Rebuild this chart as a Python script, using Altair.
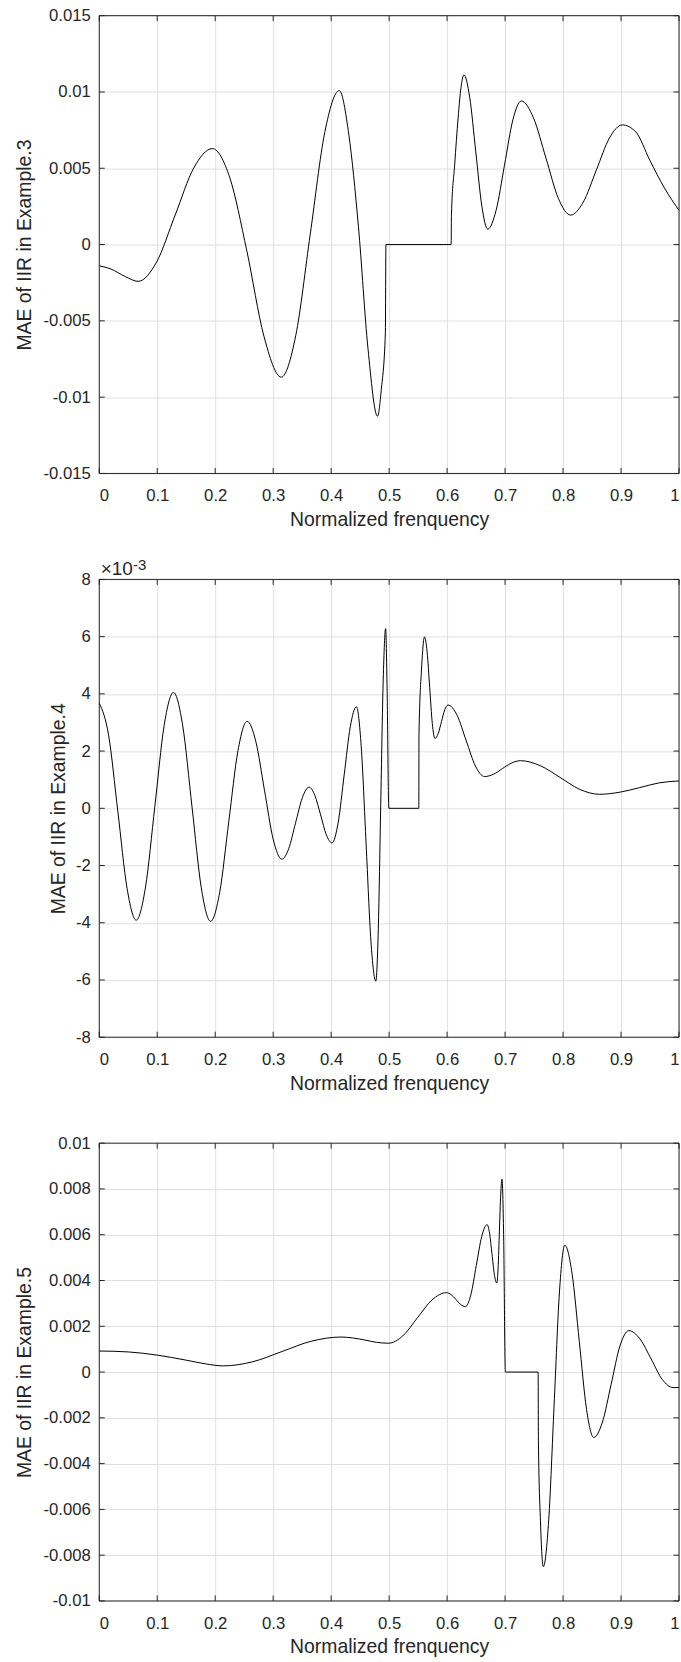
import altair as alt
import pandas as pd

# ---------------- data ----------------
x_ticks = [0, 0.1, 0.2, 0.3, 0.4, 0.5, 0.6, 0.7, 0.8, 0.9, 1]

# Panel 1: Example.3
p1_x = [0.000, 0.020, 0.045, 0.067, 0.099, 0.131, 0.163, 0.195, 0.225, 0.2545, 0.284,
        0.314, 0.339, 0.364, 0.389, 0.414, 0.4305, 0.447, 0.4635, 0.480, 0.4865,
        0.4935, 0.4945, 0.607, 0.6075, 0.613, 0.619, 0.624, 0.629, 0.639, 0.6495,
        0.660, 0.670, 0.6845, 0.699, 0.7135, 0.728, 0.749, 0.7705, 0.792, 0.813,
        0.835, 0.8575, 0.880, 0.902, 0.925, 0.950, 0.975, 1.000]
p1_y = [-0.00139, -0.0016, -0.0021, -0.00241, -0.00114, 0.00194, 0.00502, 0.00629,
        0.0044, -0.0004, -0.0060, -0.00869, -0.00595, 0.0007, 0.00735, 0.01009, 0.0072,
        0.0012, -0.0068, -0.01125, -0.0095, -0.0058, 0.0, 0.0, 0.0020, 0.0052, 0.0083,
        0.0103, 0.01112, 0.00964, 0.00607, 0.0025, 0.00101, 0.00224, 0.0052, 0.00818,
        0.00941, 0.0083, 0.00567, 0.00302, 0.00193, 0.00279, 0.00489, 0.00698, 0.00784,
        0.0074, 0.0055, 0.0037, 0.00224]
p1_yticks = [-0.015, -0.01, -0.005, 0, 0.005, 0.01, 0.015]

# Panel 2: Example.4 (values in units of 1e-3)
p2_x = [0.000, 0.016, 0.032, 0.048, 0.0637, 0.0798, 0.0959, 0.1119, 0.128, 0.144, 0.160,
        0.176, 0.192, 0.2078, 0.2235, 0.2393, 0.255, 0.270, 0.285, 0.300, 0.315, 0.3268,
        0.3385, 0.3503, 0.362, 0.3719, 0.3818, 0.3916, 0.4015, 0.412, 0.4225, 0.433,
        0.4435, 0.4519, 0.4603, 0.4686, 0.477, 0.4813, 0.4855, 0.4898, 0.494, 0.4965,
        0.4995, 0.5512, 0.5515, 0.556, 0.561, 0.5655, 0.570, 0.5745, 0.579, 0.5846,
        0.5903, 0.5959, 0.6015, 0.6173, 0.633, 0.6488, 0.6645, 0.680, 0.6955, 0.711,
        0.7266, 0.7607, 0.7948, 0.8289, 0.863, 0.897, 0.9315, 0.966, 1.000]
p2_y = [3.68, 2.57, -0.1, -2.80, -3.91, -2.75, 0.07, 2.89, 4.05, 2.88, 0.05, -2.78,
        -3.95, -2.93, -0.45, 2.02, 3.04, 2.34, 0.63, -1.08, -1.78, -1.41, -0.52, 0.37,
        0.74, 0.45, -0.23, -0.92, -1.21, -0.51, 1.17, 2.85, 3.55, 2.15, -1.25, -4.64,
        -6.04, -4.24, 0.12, 4.48, 6.28, 4.2, 0.0, 0.0, 2.6, 4.9, 5.99, 5.47, 4.22, 2.96,
        2.44, 2.61, 3.03, 3.44, 3.61, 3.25, 2.36, 1.48, 1.11, 1.19, 1.39, 1.58, 1.665,
        1.49, 1.08, 0.66, 0.49, 0.56, 0.72, 0.89, 0.955]
p2_yticks = [-8, -6, -4, -2, 0, 2, 4, 6, 8]

# Panel 3: Example.5
p3_x = [0.000, 0.050, 0.100, 0.150, 0.185, 0.214, 0.2648, 0.3155, 0.366, 0.417, 0.437,
        0.458, 0.478, 0.4985, 0.5236, 0.5488, 0.5739, 0.599, 0.607, 0.6153, 0.6234,
        0.6316, 0.641, 0.6503, 0.6597, 0.669, 0.6732, 0.6774, 0.6815, 0.6857, 0.688,
        0.6902, 0.6925, 0.6947, 0.6975, 0.7005, 0.757, 0.7575, 0.761, 0.766, 0.7753,
        0.7845, 0.7938, 0.803, 0.8155, 0.828, 0.8405, 0.853, 0.868, 0.883, 0.898,
        0.9135, 0.9326, 0.952, 0.971, 0.990, 1.000]
p3_y = [0.00092, 0.00088, 0.00074, 0.00052, 0.00035, 0.00027, 0.00045, 0.00090, 0.00135,
        0.00153, 0.00149, 0.00140, 0.00130, 0.00126, 0.00158, 0.00237, 0.00315, 0.00347,
        0.00338, 0.00317, 0.00295, 0.00286, 0.00338, 0.00465, 0.00592, 0.00644, 0.00607,
        0.00517, 0.00426, 0.00389, 0.00455, 0.00616, 0.00777, 0.00843, 0.0060, 0.0, 0.0,
        -0.0030, -0.0065, -0.0085, -0.00645, -0.00148, 0.0035, 0.00554, 0.00431, 0.00134,
        -0.00163, -0.00286, -0.00218, -0.00053, 0.00113, 0.00181, 0.00145, 0.00057,
        -0.00032, -0.00068, -0.00067]
p3_yticks = [-0.01, -0.008, -0.006, -0.004, -0.002, 0, 0.002, 0.004, 0.006, 0.008, 0.01]

x_title = "Normalized frenquency"

# ---------------- styling ----------------
W, H = 580, 458
FONT = "Liberation Sans"
INK = "#262626"
TICK = 5.5


def panel(xs, ys, yticks, ydom, ytitle, ytitle_x, anchor, extra=None):
    df = pd.DataFrame({"f": xs, "v": ys})
    xsc = alt.Scale(domain=[0, 1], nice=False, zero=False)
    ysc = alt.Scale(domain=ydom, nice=False, zero=False)
    xax = alt.Axis(
        values=x_ticks, labelExpr="'' + datum.value", grid=True, ticks=False,
        domain=False, labelPadding=14.5, title=x_title, titleX=W / 2, titleY=52,
        titleBaseline="alphabetic", titleAlign="center")
    yax = alt.Axis(
        values=yticks, labelExpr="'' + datum.value", grid=True, ticks=False,
        domain=False, labelPadding=9, title=ytitle, titleX=ytitle_x, titleY=H / 2,
        titleBaseline="alphabetic", titleAlign="center", titleAngle=270)

    line = alt.Chart(df).mark_line(
        color="black", strokeWidth=1, interpolate="monotone"
    ).encode(
        x=alt.X("f:Q", scale=xsc, axis=xax),
        y=alt.Y("v:Q", scale=ysc, axis=yax),
    )

    xt = pd.DataFrame({"f": x_ticks})
    yt = pd.DataFrame({"v": yticks})
    rule = dict(color=INK, strokeWidth=1)
    t_bottom = alt.Chart(xt).mark_rule(**rule).encode(
        x=alt.X("f:Q", scale=xsc, axis=xax), y=alt.value(H), y2=alt.value(H - TICK))
    t_top = alt.Chart(xt).mark_rule(**rule).encode(
        x=alt.X("f:Q", scale=xsc, axis=xax), y=alt.value(0), y2=alt.value(TICK))
    t_left = alt.Chart(yt).mark_rule(**rule).encode(
        y=alt.Y("v:Q", scale=ysc, axis=yax), x=alt.value(0), x2=alt.value(TICK))
    t_right = alt.Chart(yt).mark_rule(**rule).encode(
        y=alt.Y("v:Q", scale=ysc, axis=yax), x=alt.value(W), x2=alt.value(W - TICK))
    frame = alt.Chart(pd.DataFrame({"k": [0]})).mark_rect(
        fillOpacity=0, stroke=INK, strokeWidth=1
    ).encode(x=alt.value(0), x2=alt.value(W), y=alt.value(0), y2=alt.value(H))
    # invisible layout anchor (keeps the panels' plot areas where the reference has them)
    anch = alt.Chart(pd.DataFrame({"s": ["."]})).mark_text(
        opacity=0, fontSize=1, align="left", baseline="top"
    ).encode(text="s:N", x=alt.value(anchor[0]), y=alt.value(anchor[1]))

    layers = [line, t_bottom, t_top, t_left, t_right, frame, anch]
    if extra is not None:
        layers += extra
    return alt.layer(*layers).properties(width=W, height=H)


exp_label = [
    alt.Chart(pd.DataFrame({"s": ["×10"]})).mark_text(
        align="left", baseline="alphabetic", font=FONT, fontSize=19, color=INK
    ).encode(text="s:N", x=alt.value(1.4), y=alt.value(-4)),
    alt.Chart(pd.DataFrame({"s": ["-3"]})).mark_text(
        align="left", baseline="alphabetic", font=FONT, fontSize=15, color=INK
    ).encode(text="s:N", x=alt.value(33.7), y=alt.value(-9.5)),
]

c1 = panel(p1_x, p1_y, p1_yticks, [-0.015, 0.015], "MAE of IIR in Example.3", -68.8,
           (-92, -5))
c2 = panel(p2_x, p2_y, p2_yticks, [-8, 8], "MAE of IIR in Example.4", -35,
           (-92, -25), extra=exp_label)
c3 = panel(p3_x, p3_y, p3_yticks, [-0.01, 0.01], "MAE of IIR in Example.5", -69.2,
           (-86.7, -25))

chart = alt.concat(
    c1, c2, c3, columns=1, align="none", spacing=25
).properties(
    padding={"left": 7.3, "top": 7.3, "right": 0, "bottom": 0},
    background="white",
).configure_axis(
    labelFont=FONT, labelFontSize=16.7, labelColor=INK,
    titleFont=FONT, titleFontSize=19.4, titleColor=INK, titleFontWeight="normal",
    gridColor="#dfdfdf", gridWidth=1, gridOpacity=1,
).configure_view(strokeWidth=0)

chart.save("out.html", embed_options={"renderer": "svg", "actions": False})
